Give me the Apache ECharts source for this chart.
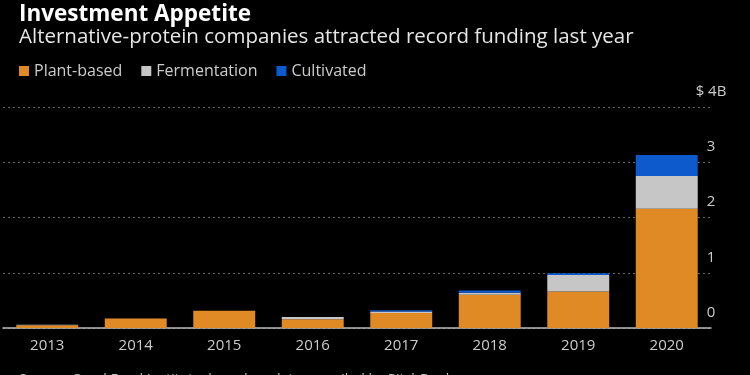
<!DOCTYPE html>
<html>
<head>
<meta charset="utf-8">
<script src="https://cdn.jsdelivr.net/npm/echarts@6/dist/echarts.min.js"></script>
<style>
  html, body { margin: 0; padding: 0; background: #000; }
  #chart { width: 750px; height: 375px; }
</style>
</head>
<body>
<div id="chart"></div>
<script>
  // funding, $ billions
  var years = ['2013', '2014', '2015', '2016', '2017', '2018', '2019', '2020'];
  var plantBased = [0.05, 0.17, 0.31, 0.16, 0.27, 0.60, 0.66, 2.16];
  var fermentation = [0.01, 0, 0, 0.04, 0.03, 0.04, 0.30, 0.59];
  var cultivated = [0, 0, 0, 0, 0.02, 0.04, 0.03, 0.38];

  var font = '"Open Sans", "Liberation Sans", sans-serif';

  var option = {
    backgroundColor: '#000',
    animation: false,
    title: [{
      text: 'Investment Appetite',
      left: 14,
      top: -2,
      textStyle: { color: '#fff', fontSize: 22.5, fontWeight: 'bold', fontFamily: font }
    }, {
      text: 'Alternative-protein companies attracted record funding last year',
      left: 14,
      top: 22,
      textStyle: { color: '#e6e6e6', fontSize: 20.5, fontWeight: 'normal', fontFamily: font }
    }, {
      text: 'Source: Good Food Institute, based on data compiled by PitchBook',
      left: 14,
      top: 368,
      textStyle: { color: '#bbb', fontSize: 14, fontWeight: 'normal', fontFamily: font }
    }],
    legend: {
      left: 14,
      top: 58,
      icon: 'rect',
      itemWidth: 10,
      itemHeight: 10,
      itemGap: 19,
      textStyle: { color: '#ccc', fontSize: 16, fontFamily: font },
      data: ['Plant-based', 'Fermentation', 'Cultivated']
    },
    grid: {
      left: 3,
      right: 39,
      top: 107,
      bottom: 47
    },
    xAxis: {
      type: 'category',
      data: years,
      axisTick: { show: false },
      axisLine: { lineStyle: { color: '#bbb', width: 1.5 } },
      axisLabel: { color: '#ccc', fontSize: 15, margin: 10, fontFamily: font }
    },
    yAxis: {
      type: 'value',
      position: 'right',
      min: 0,
      max: 4,
      interval: 1,
      axisLine: { show: false },
      axisTick: { show: false },
      splitLine: { lineStyle: { color: '#666', type: [2, 3], width: 1 } },
      axisLabel: {
        color: '#ccc',
        fontSize: 15,
        fontFamily: font,
        margin: 0,
        align: 'center',
        verticalAlign: 'bottom',
        padding: [0, 0, 8, 0],
        formatter: function (v) {
          return v === 4 ? '$ 4B' : v;
        }
      }
    },
    series: [{
      name: 'Plant-based',
      type: 'bar',
      stack: 'total',
      barWidth: '70%',
      itemStyle: { color: '#e08a26' },
      data: plantBased
    }, {
      name: 'Fermentation',
      type: 'bar',
      stack: 'total',
      itemStyle: { color: '#c6c6c6' },
      data: fermentation
    }, {
      name: 'Cultivated',
      type: 'bar',
      stack: 'total',
      itemStyle: { color: '#0d5acd' },
      data: cultivated
    }]
  };

  var myChart = echarts.init(document.getElementById('chart'));
  myChart.setOption(option);
  window.addEventListener('resize', function () {
    myChart.resize();
  });
</script>
</body>
</html>
